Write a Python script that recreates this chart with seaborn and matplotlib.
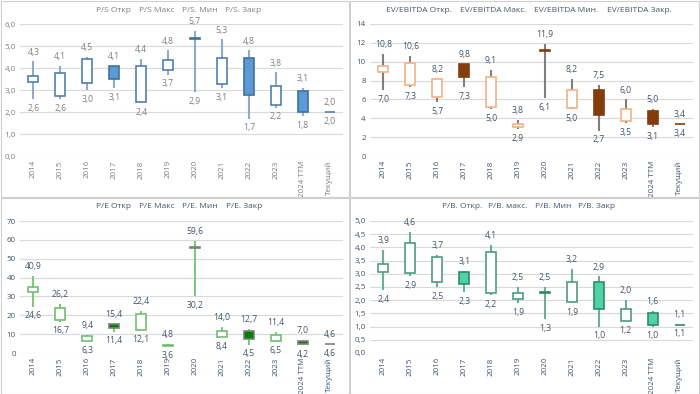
import matplotlib
matplotlib.use("Agg")
import matplotlib.pyplot as plt
from matplotlib.patches import Rectangle
from matplotlib.ticker import FuncFormatter
import seaborn as sns

# categories (x axis)
years = ["2014", "2015", "2016", "2017", "2018", "2019", "2020", "2021",
         "2022", "2023", "2024 TTM", "Текущий"]

# P/S
ps_open = [3.35, 2.72, 3.33, 4.10, 2.45, 3.93, 5.35, 3.26, 4.44, 2.34, 2.95, 2.0]
ps_close = [3.65, 3.76, 4.43, 3.49, 4.09, 4.38, 5.32, 4.44, 2.77, 3.18, 2.00, 2.0]
ps_high = [4.3, 4.1, 4.5, 4.1, 4.4, 4.8, 5.7, 5.3, 4.8, 3.8, 3.1, 2.0]
ps_low = [2.6, 2.6, 3.0, 3.1, 2.4, 3.7, 2.9, 3.1, 1.7, 2.2, 1.8, 2.0]

# EV/EBITDA
ev_open = [8.86, 7.58, 6.23, 9.75, 5.16, 3.06, 11.2, 5.12, 7.0, 3.67, 4.8, 3.38]
ev_close = [9.5, 9.86, 8.15, 8.33, 8.43, 3.42, 11.1, 7.0, 4.37, 5.0, 3.35, 3.35]
ev_high = [10.8, 10.6, 8.2, 9.8, 9.1, 3.8, 11.9, 8.2, 7.5, 6.0, 5.0, 3.4]
ev_low = [7.0, 7.3, 5.7, 7.3, 5.0, 2.9, 6.1, 5.0, 2.7, 3.5, 3.1, 3.4]

# P/E
pe_open = [32.1, 17.5, 6.6, 15.3, 12.4, 3.9, 56.2, 8.5, 11.9, 6.6, 6.6, 4.65]
pe_close = [35.2, 24.0, 9.2, 13.0, 20.8, 4.3, 55.8, 11.9, 7.5, 9.8, 4.6, 4.6]
pe_high = [40.9, 26.2, 9.4, 15.4, 22.4, 4.8, 59.6, 14.0, 12.7, 11.4, 7.0, 4.6]
pe_low = [24.6, 16.7, 6.3, 11.4, 12.1, 3.6, 30.2, 8.4, 4.5, 6.5, 4.2, 4.6]

# P/B
pb_open = [3.08, 3.02, 2.70, 3.08, 2.28, 2.03, 2.32, 1.95, 2.68, 1.22, 1.52, 1.06]
pb_close = [3.39, 4.15, 3.62, 2.61, 3.83, 2.26, 2.29, 2.68, 1.68, 1.68, 1.05, 1.05]
pb_high = [3.9, 4.6, 3.7, 3.1, 4.1, 2.5, 2.5, 3.2, 2.9, 2.0, 1.6, 1.1]
pb_low = [2.4, 2.9, 2.5, 2.3, 2.2, 1.9, 1.3, 1.9, 1.0, 1.2, 1.0, 1.1]

ps_legend = ["P/S Откр", "P/S Макс", "P/S. Мин", "P/S. Закр"]
ev_legend = ["EV/EBITDA Откр.", "EV/EBITDA Макс.", "EV/EBITDA Мин.", "EV/EBITDA Закр."]
pe_legend = ["P/E Откр", "P/E Макс", "P/E. Мин", "P/E. Закр"]
pb_legend = ["P/B. Откр.", "P/B. макс.", "P/B. Мин", "P/B. Закр"]

sns.set_theme(style="whitegrid")
plt.rcParams["font.family"] = ["Open Sans", "DejaVu Sans"]

W, H = 700, 394
fig = plt.figure(figsize=(7, 3.94), dpi=100)


def comma(fmt):
    return FuncFormatter(lambda v, p: (fmt % v).replace(".", ","))


def candles(px, py, o, hi, lo, c, ymax, ystep, yfmt, legend, leg_x, style):
    txt = style["text"]
    # axes area in pixel space of the panel
    left, right, top, bottom = 20, 343, 24, 156
    ax = fig.add_axes([(px + left) / W, 1 - (py + bottom) / H,
                       (right - left) / W, (bottom - top) / H])
    x = list(range(len(years)))
    ax.vlines(x, lo, hi, color=style["wick"], lw=1.5, zorder=2)
    for i in x:
        up = c[i] >= o[i]
        ax.bar(i, c[i] - o[i], bottom=o[i], width=0.37,
               color="white" if up else style["down"],
               edgecolor=style["up_edge"] if up else style["down_edge"],
               lw=1.2, zorder=3)
        ax.annotate(("%.1f" % hi[i]).replace(".", ","), (i, hi[i]),
                    xytext=(0, 3.5), textcoords="offset points",
                    ha="center", va="bottom", fontsize=6.2, color=txt,
                    annotation_clip=False)
        ax.annotate(("%.1f" % lo[i]).replace(".", ","), (i, lo[i]),
                    xytext=(0, -3.5), textcoords="offset points",
                    ha="center", va="top", fontsize=6.2, color=txt,
                    annotation_clip=False)
    ax.set_xlim(-0.5, len(years) - 0.5)
    ax.set_ylim(0, ymax)
    ax.set_yticks([k * ystep for k in range(int(round(ymax / ystep)) + 1)])
    ax.yaxis.set_major_formatter(comma(yfmt))
    ax.set_xticks(x)
    ax.set_xticklabels(years, rotation=90)
    ax.tick_params(axis="both", labelsize=5.8, colors=txt, length=0, pad=3)
    ax.grid(axis="x", visible=False)
    ax.grid(axis="y", color="#D9D9D9", lw=0.8)
    ax.set_axisbelow(True)
    sns.despine(ax=ax, left=True, bottom=True)
    for name, lx in zip(legend, leg_x):
        fig.text((px + lx) / W, 1 - (py + 10) / H, name, ha="center",
                 va="center", fontsize=6, color=txt)
    fig.add_artist(Rectangle(((px + 0.5) / W, 1 - (py + 196.5) / H),
                             348 / W, 196 / H, transform=fig.transFigure,
                             fill=False, edgecolor="#D0D0D0", lw=0.8))
    return ax


candles(0, 0, ps_open, ps_high, ps_low, ps_close, 6, 1, "%.1f",
        ps_legend, [113, 157, 200, 243],
        dict(text="#7F7F7F", wick="#8FAACB", up_edge="#4F7FB0",
             down="#5B9BD5", down_edge="#41719C"))
candles(350, 0, ev_open, ev_high, ev_low, ev_close, 14, 2, "%.0f",
        ev_legend, [69, 143, 216, 289],
        dict(text="#44546A", wick="#7F7F7F", up_edge="#F4B183",
             down="#843C0C", down_edge="#843C0C"))
candles(0, 197, pe_open, pe_high, pe_low, pe_close, 70, 10, "%.0f",
        pe_legend, [114, 157, 200, 244],
        dict(text="#44546A", wick="#7DC97D", up_edge="#70BF70",
             down="#008000", down_edge="#7F7F7F"))
candles(350, 197, pb_open, pb_high, pb_low, pb_close, 5, 0.5, "%.1f",
        pb_legend, [112, 158, 203, 247],
        dict(text="#44546A", wick="#6BB096", up_edge="#4E9C80",
             down="#50D2A8", down_edge="#2F8A6A"))

fig.savefig("out.png", dpi=100)
